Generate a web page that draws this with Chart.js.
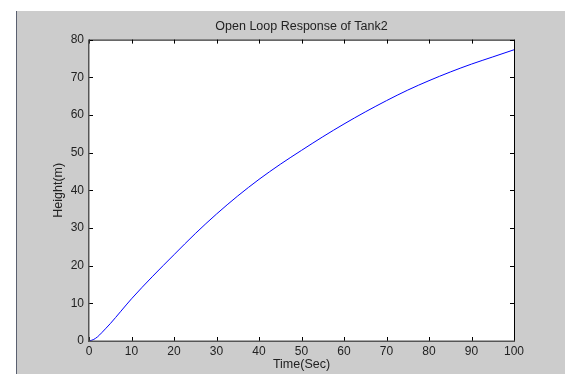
<!DOCTYPE html>
<html>
<head>
<meta charset="utf-8">
<script src="https://cdn.jsdelivr.net/npm/chart.js@4.4.0/dist/chart.umd.min.js"></script>
<style>
  html, body { margin: 0; padding: 0; background: #ffffff; }
  #wrap { position: relative; width: 565px; height: 374px; overflow: hidden; }
  #fig { position: absolute; left: 16px; top: 11px; width: 549px; height: 363px; background: #cccccc; border-left: 1px solid #5a6070; box-sizing: border-box; }
  #c { position: absolute; left: 0; top: 0; }
</style>
</head>
<body>
<div id="wrap">
  <div id="fig"></div>
  <canvas id="c" width="565" height="374"></canvas>
</div>
<script>
// Data
const timeSec = [0, 1, 2, 3, 4, 5, 7.5, 10, 15, 20, 25, 30, 35, 40, 45, 50, 55, 60, 65, 70, 75, 80, 85, 90, 95, 100];
const heightM = [0, 0.35, 1.1, 2.2, 3.4, 4.6, 7.9, 11.2, 17.2, 22.9, 28.5, 33.7, 38.5, 42.9, 46.9, 50.6, 54.2, 57.6, 60.8, 63.8, 66.6, 69.1, 71.4, 73.5, 75.4, 77.3];
const xTicks = [0, 10, 20, 30, 40, 50, 60, 70, 80, 90, 100];
const yTicks = [0, 10, 20, 30, 40, 50, 60, 70, 80];

const chartTitle = 'Open Loop Response of Tank2';
const xTitle = 'Time(Sec)';
const yTitle = 'Height(m)';

const points = timeSec.map((t, i) => ({ x: t, y: heightM[i] }));
const FONT = "'Liberation Sans', Arial, sans-serif";
const TXT = '#222222';

const boxPlugin = {
  id: 'matlabBox',
  beforeDatasetsDraw(chart) {
    const { ctx, chartArea: a } = chart;
    ctx.save();
    ctx.fillStyle = '#ffffff';
    ctx.fillRect(a.left, a.top, a.right - a.left, a.bottom - a.top);
    ctx.restore();
  },
  afterDatasetsDraw(chart) {
    const { ctx, chartArea: a, scales } = chart;
    ctx.save();
    ctx.strokeStyle = '#000000';
    ctx.lineWidth = 1;
    const tl = 4;
    ctx.beginPath();
    scales.x.ticks.forEach(t => {
      const px = Math.round(scales.x.getPixelForValue(t.value)) + 0.5;
      ctx.moveTo(px, a.top); ctx.lineTo(px, a.top + tl);
      ctx.moveTo(px, a.bottom); ctx.lineTo(px, a.bottom - tl);
    });
    scales.y.ticks.forEach(t => {
      const py = Math.round(scales.y.getPixelForValue(t.value)) + 0.5;
      ctx.moveTo(a.left, py); ctx.lineTo(a.left + tl, py);
      ctx.moveTo(a.right, py); ctx.lineTo(a.right - tl, py);
    });
    ctx.stroke();
    ctx.beginPath();
    ctx.moveTo(a.left, a.top + 0.5); ctx.lineTo(a.right + 0.5, a.top + 0.5);
    ctx.lineTo(a.right + 0.5, a.bottom);
    ctx.stroke();
    ctx.strokeStyle = '#555555';
    ctx.lineWidth = 1.5;
    ctx.beginPath();
    ctx.moveTo(a.left - 0.25, a.top); ctx.lineTo(a.left - 0.25, a.bottom + 0.25);
    ctx.lineTo(a.right + 1, a.bottom + 0.25);
    ctx.stroke();
    ctx.restore();
  }
};

new Chart(document.getElementById('c'), {
  type: 'line',
  data: {
    datasets: [{
      data: points,
      borderColor: '#0000ff',
      borderWidth: 1,
      pointRadius: 0,
      cubicInterpolationMode: 'monotone',
      fill: false
    }]
  },
  options: {
    responsive: false,
    animation: false,
    layout: { padding: { left: 0, right: 51, top: 0, bottom: 0 } },
    plugins: {
      legend: { display: false },
      tooltip: { enabled: false },
      title: {
        display: true,
        text: chartTitle,
        fullSize: false,
        color: TXT,
        font: { family: FONT, size: 12.5, weight: 'normal' },
        padding: { top: 19, bottom: 5.6 }
      }
    },
    scales: {
      x: {
        type: 'linear',
        min: 0, max: 100,
        afterBuildTicks: s => { s.ticks = xTicks.map(v => ({ value: v })); },
        afterFit: s => { s.height = 33; },
        grid: { display: false, drawTicks: false },
        border: { display: false },
        ticks: { color: TXT, font: { family: FONT, size: 12 }, padding: 3, maxRotation: 0, autoSkip: false },
        title: { display: true, text: xTitle, color: TXT, font: { family: FONT, size: 12.5 }, padding: { top: 0, bottom: 2 } }
      },
      y: {
        type: 'linear',
        min: 0, max: 80,
        afterBuildTicks: s => { s.ticks = yTicks.map(v => ({ value: v })); },
        afterFit: s => { s.width = 89; },
        grid: { display: false, drawTicks: false },
        border: { display: false },
        ticks: { color: TXT, font: { family: FONT, size: 12 }, padding: 5, autoSkip: false },
        title: { display: true, text: yTitle, color: TXT, font: { family: FONT, size: 12.5 }, padding: { top: 51, bottom: 0 } }
      }
    }
  },
  plugins: [boxPlugin]
});
</script>
</body>
</html>
